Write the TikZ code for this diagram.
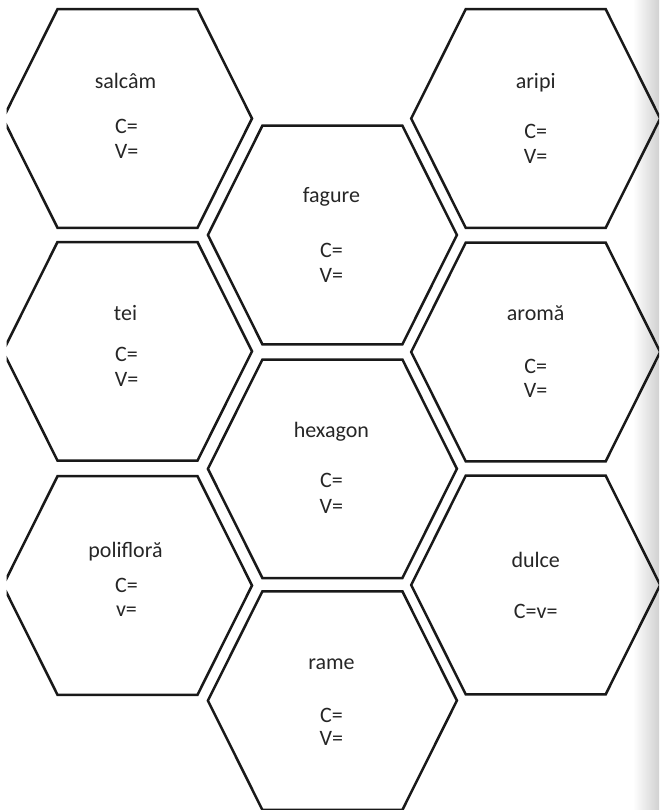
\documentclass[tikz,border=0pt]{standalone}
\usepackage{fontspec}
\setmainfont{Carlito}
\newcommand{\hexcell}[1]{%
  \draw[hexline] ([shift={(-70,-109.3)}]#1) -- ([shift={(70,-109.3)}]#1)
    -- ([shift={(124.5,0)}]#1) -- ([shift={(70,109.3)}]#1)
    -- ([shift={(-70,109.3)}]#1) -- ([shift={(-124.5,0)}]#1) -- cycle;}
\begin{document}
\begin{tikzpicture}[x=1pt,y=-1pt,
  hexline/.style={draw=black!90, line width=2.5pt, line join=miter},
  lbl/.style={anchor=base, inner sep=0pt, text=black!85, font=\fontsize{22}{26}\selectfont}]
\useasboundingbox (0,0) rectangle (659,810);
\shade[left color=white, right color=black!18] (633,0) rectangle (659,810);
\clip (6.5,0) rectangle (659,810);
% cell centres
\coordinate (salcam) at (127.5,118.5);
\coordinate (tei) at (127.5,351.3);
\coordinate (poli) at (127.5,585.5);
\coordinate (fagure) at (332.4,235);
\coordinate (hexagon) at (332.4,468.8);
\coordinate (rame) at (332.4,700.6);
\coordinate (aripi) at (535.7,118.5);
\coordinate (aroma) at (535.7,352);
\coordinate (dulce) at (535.7,585);
% hexagons
\hexcell{salcam}
\hexcell{tei}
\hexcell{poli}
\hexcell{fagure}
\hexcell{hexagon}
\hexcell{rame}
\hexcell{aripi}
\hexcell{aroma}
\hexcell{dulce}
% texts
\node[lbl] (salcam-t) at ([shift={(-2,-30)}]salcam) {salcâm};
\node[lbl] (salcam-c) at ([shift={(-1,15)}]salcam) {C=};
\node[lbl] (salcam-v) at ([shift={(-1,40)}]salcam) {V=};
\node[lbl] (tei-t) at ([shift={(-2,-31)}]tei) {tei};
\node[lbl] (tei-c) at ([shift={(-1,10)}]tei) {C=};
\node[lbl] (tei-v) at ([shift={(-1,35)}]tei) {V=};
\node[lbl] (poli-t) at ([shift={(-2,-28)}]poli) {polifloră};
\node[lbl] (poli-c) at ([shift={(-1,7)}]poli) {C=};
\node[lbl] (poli-v) at ([shift={(-1,31)}]poli) {v=};
\node[lbl] (fagure-t) at ([shift={(-1,-32)}]fagure) {fagure};
\node[lbl] (fagure-c) at ([shift={(-1,22)}]fagure) {C=};
\node[lbl] (fagure-v) at ([shift={(-1,47)}]fagure) {V=};
\node[lbl] (hexagon-t) at ([shift={(-1,-31)}]hexagon) {hexagon};
\node[lbl] (hexagon-c) at ([shift={(-1,19)}]hexagon) {C=};
\node[lbl] (hexagon-v) at ([shift={(-1,45)}]hexagon) {V=};
\node[lbl] (rame-t) at ([shift={(-1,-31)}]rame) {rame};
\node[lbl] (rame-c) at ([shift={(-1,22)}]rame) {C=};
\node[lbl] (rame-v) at ([shift={(-1,45)}]rame) {V=};
\node[lbl] (aripi-t) at ([shift={(0,-30)}]aripi) {aripi};
\node[lbl] (aripi-c) at ([shift={(0,20)}]aripi) {C=};
\node[lbl] (aripi-v) at ([shift={(0,45)}]aripi) {V=};
\node[lbl] (aroma-t) at ([shift={(0,-32)}]aroma) {aromă};
\node[lbl] (aroma-c) at ([shift={(0,21)}]aroma) {C=};
\node[lbl] (aroma-v) at ([shift={(0,45)}]aroma) {V=};
\node[lbl] (dulce-t) at ([shift={(0,-18)}]dulce) {dulce};
\node[lbl] (dulce-c) at ([shift={(0,33)}]dulce) {C=v=};
\end{tikzpicture}
\end{document}
